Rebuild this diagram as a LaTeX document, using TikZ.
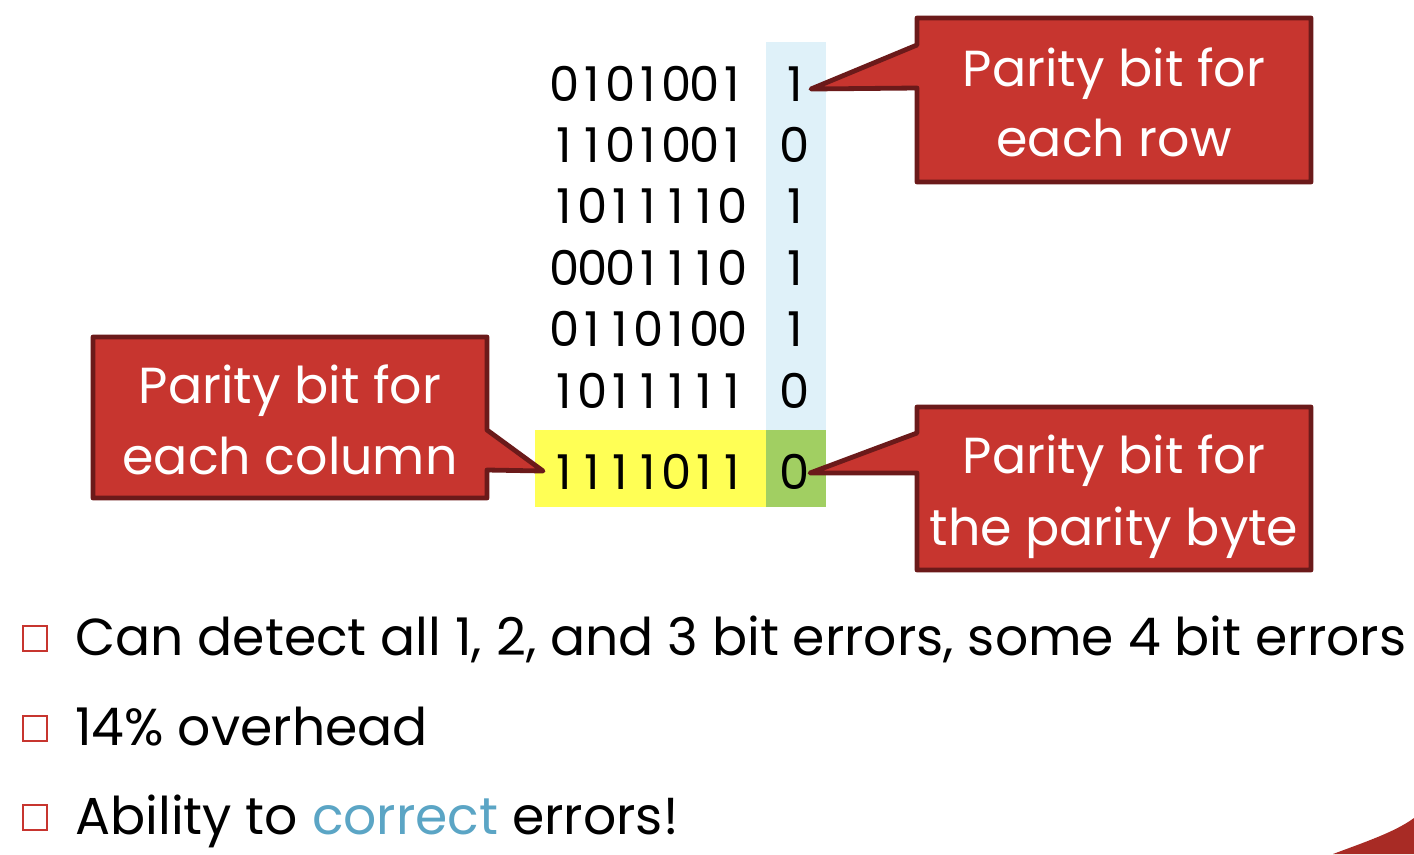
\documentclass[tikz,border=0pt]{standalone}
\usepackage{fontspec}
\setmainfont{Poppins}
\definecolor{calloutfill}{HTML}{C7352F}
\definecolor{calloutline}{HTML}{6B1A1A}
\definecolor{rowpar}{HTML}{DFF1F9}
\definecolor{colpar}{HTML}{FFFF55}
\definecolor{bothpar}{HTML}{A1CF62}
\definecolor{accent}{HTML}{5BA5C5}
\definecolor{swoosh}{HTML}{A82B25}
% set a string of bits on a fixed pitch, one box per digit
\def\bitrow#1{\bitrowi#1\relax}
\def\bitrowi#1{\ifx#1\relax\else\makebox[21pt]{#1}\expandafter\bitrowi\fi}
\begin{document}
\begin{tikzpicture}[x=0.75pt,y=-0.75pt,
  bits/.style={font=\fontsize{36}{36}\selectfont, anchor=base west, inner sep=0pt},
  pbit/.style={font=\fontsize{36}{36}\selectfont, anchor=base, inner sep=0pt},
  callout/.style={fill=calloutfill, draw=calloutline, line width=3.6pt, line join=round},
  callouttext/.style={font=\fontsize{38}{38}\selectfont, text=white, anchor=base, inner sep=0pt},
  bulletbox/.style={draw=calloutfill, line width=2.2pt},
  bullettext/.style={font=\fontsize{39}{39}\selectfont, anchor=base west, inner sep=0pt}]
\useasboundingbox (0,0) rectangle (1414,854);

% parity column, parity row and their crossing
\fill[rowpar] (766,42) rectangle (826,430);
\fill[colpar] (535,430) rectangle (766,507);
\fill[bothpar] (766,430) rectangle (826,507);

% data rows
\node[bits] (r1) at (550,101) {\bitrow{0101001}};
\node[bits] (r2) at (550,162) {\bitrow{1101001}};
\node[bits] (r3) at (550,223) {\bitrow{1011110}};
\node[bits] (r4) at (550,285) {\bitrow{0001110}};
\node[bits] (r5) at (550,346) {\bitrow{0110100}};
\node[bits] (r6) at (550,408) {\bitrow{1011111}};
\node[bits] (r7) at (550,489) {\bitrow{1111011}};

\node[pbit] (p1) at (795,101) {1};
\node[pbit] (p2) at (795,162) {0};
\node[pbit] (p3) at (795,223) {1};
\node[pbit] (p4) at (795,285) {1};
\node[pbit] (p5) at (795,346) {1};
\node[pbit] (p6) at (795,408) {0};
\node[pbit] (p7) at (795,489) {0};

\coordinate (tipA) at (811,89);
\coordinate (tipB) at (543,471);
\coordinate (tipC) at (810,473);

% callouts
\draw[callout] (917,18) -- (1311,18) -- (1311,182) -- (917,182) -- (917,88) -- (tipA) -- (917,45) -- cycle;
\node[callouttext] (ta1) at (1114,86) {Parity bit for};
\node[callouttext] (ta2) at (1114,156) {each row};

\draw[callout] (93,337) -- (487,337) -- (487,430) -- (tipB) -- (487,470) -- (487,498) -- (93,498) -- cycle;
\node[callouttext] (tb1) at (290,403) {Parity bit for};
\node[callouttext] (tb2) at (290,474) {each column};

\draw[callout] (917,407) -- (1311,407) -- (1311,570) -- (917,570) -- (917,473) -- (tipC) -- (917,433) -- cycle;
\node[callouttext] (tc1) at (1114,473) {Parity bit for};
\node[callouttext] (tc2) at (1114,545) {the parity byte};

% bullet list
\draw[bulletbox] (23,626) rectangle (47,651);
\draw[bulletbox] (23,716) rectangle (47,741);
\draw[bulletbox] (23,805) rectangle (47,830);
\node[bullettext] (l1) at (75,655) {Can detect all 1, 2, and 3 bit errors, some 4 bit errors};
\node[bullettext] (l2) at (75,745) {14\% overhead};
\node[bullettext] (l3) at (75,834) {Ability to \textcolor{accent}{correct} errors!};

% corner decoration
\fill[swoosh] (1333,854) .. controls (1365,842) and (1395,832) .. (1414,818) -- (1414,854) -- cycle;
\end{tikzpicture}
\end{document}
